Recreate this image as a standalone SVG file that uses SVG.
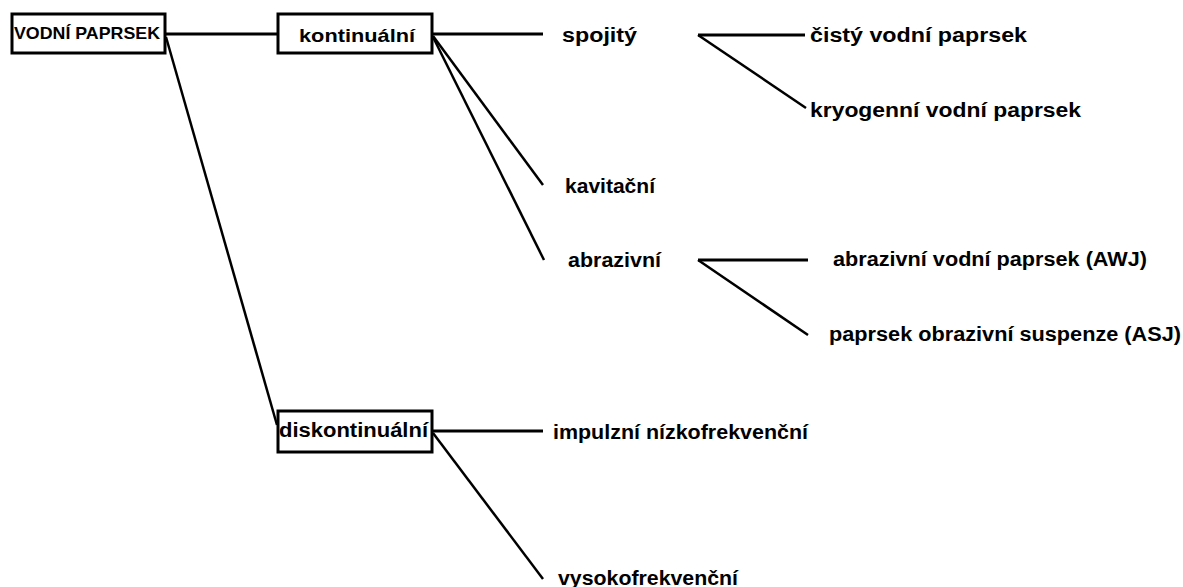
<svg xmlns="http://www.w3.org/2000/svg" width="1183" height="587" viewBox="0 0 1183 587">
<style>
.box{fill:#fff;stroke:#000;stroke-width:3}
.t{font-family:"Liberation Sans",Arial,sans-serif;font-weight:bold;font-size:20px;fill:#000}
.c line{stroke:#000;stroke-width:2.5}
.c .h{stroke-width:3}
</style>
<rect width="1183" height="587" fill="#fff"/>
<g class="c" id="connectors">
<line class="h" x1="165" y1="34" x2="278" y2="34"/>
<line x1="166" y1="37" x2="277" y2="425"/>
<line class="h" x1="432" y1="34" x2="543" y2="34"/>
<line x1="433" y1="36" x2="543" y2="185"/>
<line x1="433" y1="37" x2="544" y2="260"/>
<line class="h" x1="698" y1="35" x2="805" y2="35"/>
<line x1="698" y1="35" x2="806" y2="108"/>
<line class="h" x1="698" y1="260" x2="808" y2="260"/>
<line x1="698" y1="260" x2="808" y2="335"/>
<line class="h" x1="432" y1="431" x2="543" y2="431"/>
<line x1="433" y1="433" x2="543" y2="579"/>
</g>
<g id="vodni-paprsek"><rect class="box" x="12" y="14" width="153" height="39"/><text class="t" x="14" y="39" style="font-size:16.5px" textLength="146" lengthAdjust="spacingAndGlyphs">VODNÍ PAPRSEK</text></g>
<g id="kontinualni"><rect class="box" x="278" y="14" width="154" height="39"/><text class="t" x="299" y="42" style="font-size:19px" textLength="116" lengthAdjust="spacingAndGlyphs">kontinuální</text></g>
<g id="diskontinualni"><rect class="box" x="278" y="411" width="154" height="41"/><text class="t" x="279" y="437" textLength="149" lengthAdjust="spacingAndGlyphs">diskontinuální</text></g>
<g id="spojity"><text class="t" x="562" y="42" textLength="75" lengthAdjust="spacingAndGlyphs">spojitý</text></g>
<g id="cisty"><text class="t" x="810" y="42" textLength="217" lengthAdjust="spacingAndGlyphs">čistý vodní paprsek</text></g>
<g id="kryogenni"><text class="t" x="810" y="117" textLength="271" lengthAdjust="spacingAndGlyphs">kryogenní vodní paprsek</text></g>
<g id="kavitacni"><text class="t" x="565" y="193" textLength="90" lengthAdjust="spacingAndGlyphs">kavitační</text></g>
<g id="abrazivni"><text class="t" x="568" y="267" textLength="93" lengthAdjust="spacingAndGlyphs">abrazivní</text></g>
<g id="awj"><text class="t" x="833" y="266" textLength="314" lengthAdjust="spacingAndGlyphs">abrazivní vodní paprsek (AWJ)</text></g>
<g id="asj"><text class="t" x="829" y="341" textLength="352" lengthAdjust="spacingAndGlyphs">paprsek obrazivní suspenze (ASJ)</text></g>
<g id="impulzni"><text class="t" x="553" y="439" textLength="255" lengthAdjust="spacingAndGlyphs">impulzní nízkofrekvenční</text></g>
<g id="vysokofrekvencni"><text class="t" x="558" y="585" textLength="180" lengthAdjust="spacingAndGlyphs">vysokofrekvenční</text></g>
</svg>
